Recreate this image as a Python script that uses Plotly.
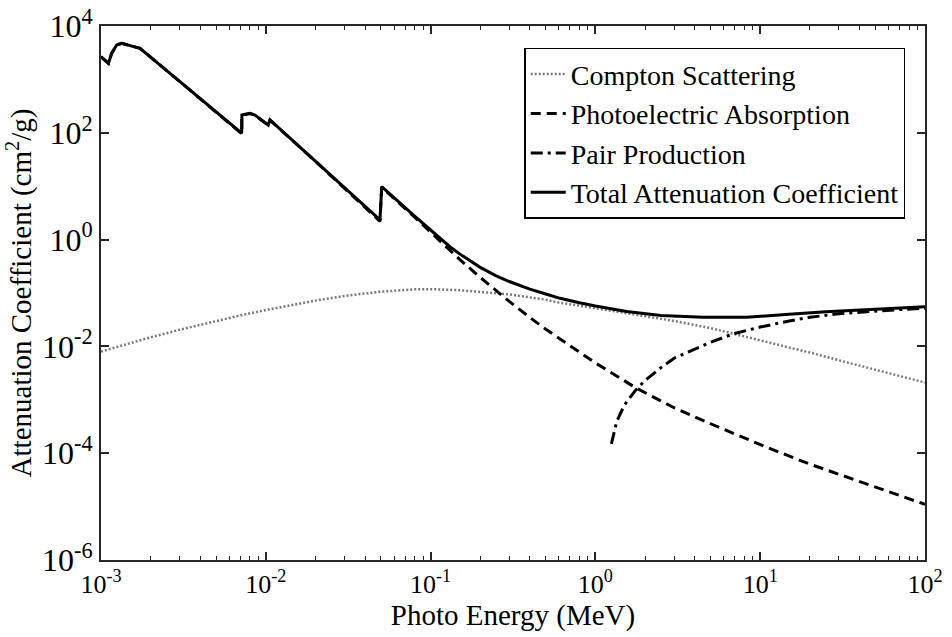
import plotly.graph_objects as go

# Mass attenuation coefficient components (cm^2/g) versus photon energy (MeV)
compton_energy = [0.001, 0.0015, 0.002, 0.003, 0.005, 0.007, 0.01, 0.015, 0.02, 0.03,
                  0.05, 0.08, 0.1, 0.15, 0.2, 0.3, 0.5, 0.6, 0.8, 1.0, 1.5, 2.0, 3.0,
                  5.0, 7.0, 10, 15, 20, 30, 50, 70, 100]
compton_mu = [0.0080, 0.0115, 0.0148, 0.0205, 0.030, 0.038, 0.048, 0.062, 0.072, 0.088,
              0.106, 0.117, 0.118, 0.113, 0.106, 0.094, 0.075, 0.066, 0.058, 0.052, 0.043,
              0.037, 0.030, 0.022, 0.0172, 0.0130, 0.0095, 0.0077, 0.0055, 0.0036, 0.0028,
              0.0021]

photo_energy = [0.001, 0.00111, 0.00116, 0.001245, 0.001336, 0.00157, 0.001725, 0.003,
                0.005, 0.00714, 0.00716, 0.00802, 0.00859, 0.0101, 0.01035, 0.0106, 0.02,
                0.0493, 0.0505, 0.08, 0.131, 0.15, 0.2, 0.25, 0.3, 0.4, 0.5, 0.61, 0.8,
                1.0, 1.78, 3.0, 5.0, 10.9, 20, 50, 100]
photo_mu = [2650, 1990, 3070, 4390, 4730, 4090, 3810, 915, 242, 96, 213, 230, 213, 149,
            138, 172, 29.2, 2.2, 9.6, 2.63, 0.62, 0.427, 0.196, 0.11, 0.0697, 0.0349,
            0.0209, 0.0138, 0.0078, 0.0049, 0.00164, 0.00071, 0.000356, 0.00013,
            0.0000625, 0.0000228, 0.000011]

pair_energy = [1.25, 1.35, 1.5, 1.75, 2.0, 2.5, 3.0, 4.0, 5.0, 7.0, 10, 15, 20, 30, 50,
               70, 100]
pair_mu = [0.00015, 0.0004, 0.0008, 0.0015, 0.0023, 0.004, 0.006, 0.009, 0.012, 0.0175,
           0.023, 0.030, 0.035, 0.041, 0.046, 0.049, 0.0516]

total_energy = [0.001, 0.00111, 0.00116, 0.001245, 0.001336, 0.00157, 0.001725, 0.003,
                0.005, 0.00714, 0.00716, 0.00802, 0.00859, 0.0101, 0.01035, 0.0106, 0.02,
                0.0493, 0.0505, 0.08, 0.131, 0.15, 0.2, 0.25, 0.3, 0.4, 0.5, 0.61, 0.8,
                1.0, 1.55, 2.5, 4.5, 8.3, 15, 25, 50, 100]
total_mu = [2660, 2000, 3080, 4400, 4740, 4100, 3820, 919, 245, 98, 215, 232, 215, 151,
            140, 174, 29.3, 2.33, 9.8, 2.75, 0.736, 0.54, 0.302, 0.21, 0.164, 0.118,
            0.096, 0.0795, 0.0655, 0.057, 0.045, 0.038, 0.0350, 0.0350, 0.040, 0.0447,
            0.0497, 0.0554]

x_tick_vals = [1e-3, 1e-2, 1e-1, 1e0, 1e1, 1e2]
x_tick_text = ["10<sup>-3</sup>", "10<sup>-2</sup>", "10<sup>-1</sup>", "10<sup>0</sup>",
               "10<sup>1</sup>", "10<sup>2</sup>"]
y_tick_vals = [1e-6, 1e-4, 1e-2, 1e0, 1e2, 1e4]
y_tick_text = ["10<sup>-6</sup>", "10<sup>-4</sup>", "10<sup>-2</sup>", "10<sup>0</sup>",
               "10<sup>2</sup>", "10<sup>4</sup>"]

FONT = "Liberation Serif, Times New Roman, serif"
AXIS_COLOR = "#262626"

fig = go.Figure()
fig.add_trace(go.Scatter(x=compton_energy, y=compton_mu, mode="lines",
                         name="Compton Scattering",
                         line=dict(color="#7a7a7a", width=2.5, dash="2px,2px")))
fig.add_trace(go.Scatter(x=photo_energy, y=photo_mu, mode="lines",
                         name="Photoelectric Absorption",
                         line=dict(color="black", width=3, dash="10px,6px")))
fig.add_trace(go.Scatter(x=pair_energy, y=pair_mu, mode="lines",
                         name="Pair Production",
                         line=dict(color="black", width=3, dash="12px,5px,3px,5px")))
fig.add_trace(go.Scatter(x=total_energy, y=total_mu, mode="lines",
                         name="Total Attenuation Coefficient",
                         line=dict(color="black", width=3)))

# minor ticks at 2..9 of each decade along the energy axis
x_minor = [m * 10.0 ** d for d in range(-3, 2) for m in range(2, 10)]

fig.update_layout(
    width=952, height=637,
    margin=dict(l=101, r=27, t=26, b=77),
    paper_bgcolor="white", plot_bgcolor="white",
    font=dict(family=FONT, color="black"),
    showlegend=True,
    legend=dict(x=0.976, xanchor="right", y=0.959, yanchor="top",
                bgcolor="white", bordercolor="black", borderwidth=1.5,
                font=dict(family=FONT, size=28, color="black"),
                itemwidth=35, tracegroupgap=0),
    xaxis=dict(
        type="log", range=[-3, 2],
        tickmode="array", tickvals=x_tick_vals, ticktext=x_tick_text,
        tickfont=dict(family=FONT, size=26, color="black"),
        ticks="inside", ticklen=8, tickwidth=1.5, tickcolor=AXIS_COLOR,
        minor=dict(tickvals=x_minor, ticks="inside", ticklen=4, tickwidth=1.2,
                   tickcolor=AXIS_COLOR, showgrid=False),
        showline=True, linecolor=AXIS_COLOR, linewidth=2, mirror="ticks",
        showgrid=False, zeroline=False,
        title=dict(text="Photo Energy (MeV)", standoff=6,
                   font=dict(family=FONT, size=29, color="black")),
        automargin=False,
    ),
    yaxis=dict(
        type="log", range=[-6, 4],
        tickmode="array", tickvals=y_tick_vals, ticktext=y_tick_text,
        tickfont=dict(family=FONT, size=32, color="black"),
        ticks="inside", ticklen=8, tickwidth=1.5, tickcolor=AXIS_COLOR,
        showline=True, linecolor=AXIS_COLOR, linewidth=2, mirror="ticks",
        showgrid=False, zeroline=False,
        title=dict(text="Attenuation Coefficient (cm<sup>2</sup>/g)", standoff=2,
                   font=dict(family=FONT, size=29, color="black")),
        automargin=False,
    ),
)

fig.write_html("out.html")
